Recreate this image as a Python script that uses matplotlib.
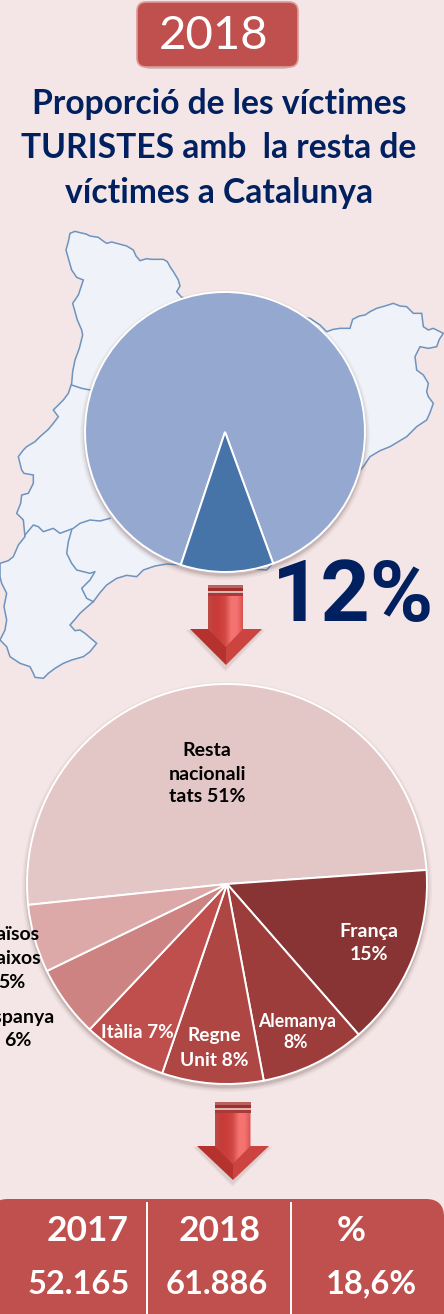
import matplotlib
matplotlib.use("Agg")
import matplotlib.pyplot as plt
import numpy as np
from matplotlib.colors import LinearSegmentedColormap
from matplotlib.patches import Circle, FancyBboxPatch, Polygon

# Data
year = "2018"
title_lines = ["Proporció de les víctimes", "TURISTES amb  la resta de", "víctimes a Catalunya"]
share_values = [89.3, 10.7]
share_colors = ["#95A9D0", "#4674A9"]
share_label = "12%"

origin_values = [50.6, 14.7, 8.5, 8.2, 6.8, 5.8, 5.5]
origin_colors = ["#E3C6C6", "#893434", "#9D3D3B", "#AE4644", "#BE4F4C", "#CC8382", "#DCA9A8"]

table_head = ["2017", "2018", "%"]
table_vals = ["52.165", "61.886", "18,6%"]

# Colors
bg = "#F4E6E6"
navy = "#002060"
red = "#C0504D"
map_fill = "#EFF3F9"
map_line = "#6E93BE"

# map outline, traced in zoomed pixels (x, y) of the map crop
map_outline = [(210, 40), (225, 34), (240, 38), (258, 42), (270, 48), (295, 52), (308, 62), (320, 70), (335, 66), (350, 70),
               (380, 78), (400, 90), (408, 108), (420, 122), (440, 116), (455, 118), (490, 118), (502, 125), (510, 140),
               (522, 158), (535, 180), (540, 198), (530, 215), (545, 232), (930, 295), (945, 305), (960, 315), (980, 335),
               (1000, 328), (1020, 325), (1050, 325), (1058, 298), (1078, 288), (1095, 285), (1110, 275), (1130, 265),
               (1155, 258), (1180, 250), (1200, 258), (1220, 260), (1240, 280), (1265, 280), (1270, 320), (1285, 330),
               (1300, 325), (1330, 340), (1318, 358), (1310, 380), (1285, 385), (1260, 380), (1245, 410), (1250, 450),
               (1270, 465), (1285, 490), (1280, 515), (1285, 530), (1300, 550), (1290, 578), (1280, 600), (1250, 620),
               (1220, 650), (1195, 665), (1170, 680), (1140, 692), (1110, 710), (1090, 740), (800, 1050), (500, 1032),
               (465, 1038), (430, 1050), (410, 1070), (380, 1066), (350, 1075), (320, 1095), (300, 1118), (280, 1145),
               (260, 1162), (240, 1180), (225, 1198), (210, 1215), (225, 1232), (240, 1230), (255, 1240), (290, 1270),
               (270, 1295), (250, 1310), (215, 1320), (190, 1330), (165, 1345), (145, 1360), (130, 1375), (105, 1372),
               (100, 1360), (90, 1340), (60, 1330), (30, 1310), (20, 1280), (0, 1260), (15, 1230), (20, 1200), (12, 1160),
               (20, 1120), (5, 1090), (0, 1070), (0, 1030), (25, 1022), (40, 1010), (55, 975), (75, 950), (72, 920),
               (70, 900), (50, 880), (62, 850), (65, 825), (85, 820), (100, 790), (100, 765), (72, 760), (65, 750), (55, 710),
               (70, 690), (80, 680), (105, 665), (120, 650), (145, 628), (160, 610), (175, 590), (160, 570), (178, 552),
               (190, 540), (205, 520), (215, 490), (218, 455), (225, 420), (238, 385), (248, 345), (245, 330), (232, 300),
               (218, 250), (235, 225), (250, 180), (230, 172), (215, 150), (205, 115), (198, 90), (205, 65)]
map_border_a = [(215, 495), (245, 505), (270, 510)]
map_border_b = [(75, 945), (100, 915), (115, 920), (130, 935), (160, 925), (180, 940), (220, 925), (240, 910), (270, 900),
                (300, 903), (330, 895)]
map_border_c = [(215, 930), (205, 965), (200, 1000), (215, 1030), (230, 1050), (270, 1060), (285, 1055), (270, 1080),
                (245, 1105), (260, 1135), (280, 1145)]

W, H = 444, 1314
fig = plt.figure(figsize=(W / 100, H / 100), dpi=100, facecolor=bg)

ax = fig.add_axes([0, 0, 1, 1], zorder=0)
ax.set_xlim(0, W)
ax.set_ylim(H, 0)
ax.axis("off")

top = fig.add_axes([0, 0, 1, 1], zorder=3)
top.set_xlim(0, W)
top.set_ylim(H, 0)
top.axis("off")

sans = "Lato"


def map_xy(points):
    pts = np.array(points, dtype=float)
    return np.column_stack([pts[:, 0] / 3, pts[:, 1] / 3 + 220])


def draw_shadow(cx, cy, r):
    for grow, alpha in [(5, 0.05), (3.5, 0.07), (2, 0.1), (1, 0.12)]:
        ax.add_patch(Circle((cx, cy + 3), r + grow, color="#6B4A4A", alpha=alpha, lw=0, zorder=4))


def draw_pie(values, colors, cx, cy, r, start, lw):
    pad = 1.03
    pie_ax = fig.add_axes([(cx - r * pad) / W, 1 - (cy + r * pad) / H, 2 * r * pad / W, 2 * r * pad / H], zorder=1)
    pie_ax.pie(values, colors=colors, startangle=start, counterclock=False,
               wedgeprops={"edgecolor": "white", "linewidth": lw})
    pie_ax.set_xlim(-pad, pad)
    pie_ax.set_ylim(-pad, pad)
    pie_ax.axis("off")


def draw_arrow(cx, y0, base, tip, stem_hw, head_hw):
    # stripes on top of the stem
    ax.fill_between([cx - stem_hw, cx + stem_hw], y0, y0 + 3, color="#B9615E", lw=0, zorder=6)
    ax.fill_between([cx - stem_hw, cx + stem_hw], y0 + 3, y0 + 6, color="#9E2F2C", lw=0, zorder=6)
    ax.fill_between([cx - stem_hw, cx + stem_hw], y0 + 6, y0 + 8, color="#DDB5B3", lw=0, zorder=6)
    ax.fill_between([cx - stem_hw, cx + stem_hw], y0 + 8, y0 + 11, color="#A93A37", lw=0, zorder=6)
    # soft shadow
    for grow, alpha in [(4, 0.06), (2, 0.1)]:
        ax.add_patch(Polygon([(cx - head_hw - grow, base + 1), (cx + head_hw + grow, base + 1), (cx, tip + 3 + grow)],
                             color="#6B4A4A", alpha=alpha, lw=0, zorder=5))
    # head
    ax.add_patch(Polygon([(cx - head_hw, base), (cx, base), (cx, tip)], color="#B5322E", lw=0, zorder=6))
    ax.add_patch(Polygon([(cx + head_hw, base), (cx, base), (cx, tip)], color="#CC4440", lw=0, zorder=6))
    # stem with side to side shading, runs into the head as a point
    cmap = LinearSegmentedColormap.from_list("stem", ["#BE4A46", "#C53C38", "#CC3E3A", "#D24A46", "#F47370", "#F47370", "#D8534F"])
    im = ax.imshow(np.linspace(0, 1, 64).reshape(1, -1), cmap=cmap, aspect="auto", zorder=7,
                   extent=(cx - stem_hw, cx + stem_hw, base + 18, y0 + 11))
    stem = Polygon([(cx - stem_hw, y0 + 11), (cx + stem_hw, y0 + 11), (cx + stem_hw, base), (cx, base + 18),
                    (cx - stem_hw, base)], transform=ax.transData, fc="none", lw=0)
    ax.add_patch(stem)
    im.set_clip_path(stem)
    ax.set_xlim(0, W)
    ax.set_ylim(H, 0)


# Year badge
ax.add_patch(FancyBboxPatch((142, 8), 150, 61, boxstyle="round,pad=0,rounding_size=8", fc="#6B4A4A", alpha=0.25, lw=0,
                            zorder=1))
ax.add_patch(FancyBboxPatch((137, 2), 161, 65, boxstyle="round,pad=0,rounding_size=9", fc=red, ec="#DE9A98", lw=1.2,
                            zorder=2))
top.text(214, 36, year, color="white", fontsize=34, family=sans, ha="center", va="center")

# Title
for line, y in zip(title_lines, [104, 148, 193]):
    top.text(219, y, line, color=navy, fontsize=24.2, family=sans, fontweight="bold", ha="center", va="center")

# Map behind the first pie
ax.add_patch(Polygon(map_xy(map_outline), closed=True, fc=map_fill, ec=map_line, lw=1.1, zorder=2))
for border in [map_border_a, map_border_b, map_border_c]:
    xy = map_xy(border)
    ax.plot(xy[:, 0], xy[:, 1], color=map_line, lw=1.1, zorder=3)

# First pie
draw_shadow(225, 432, 140)
draw_pie(share_values, share_colors, 225, 432, 140, 251.6, 1.4)
top.text(353, 598, share_label, color=navy, fontsize=62, family="Roboto", fontweight="bold",
         ha="center", va="center")
draw_arrow(225.5, 585, 629, 665, 17.5, 36)

# Second pie
draw_shadow(227, 884, 200)
draw_pie(origin_values, origin_colors, 227, 884, 200, 186, 1.4)

dark_text = "black"
top.text(207, 750, "Resta", color=dark_text, fontsize=14, family=sans, fontweight="bold", ha="center", va="center")
top.text(207, 774, "nacionali", color=dark_text, fontsize=14, family=sans, fontweight="bold", ha="center", va="center")
top.text(207, 797, "tats 51%", color=dark_text, fontsize=14, family=sans, fontweight="bold", ha="center", va="center")
top.text(369, 931, "França", color="white", fontsize=14, family=sans, fontweight="bold", ha="center", va="center")
top.text(369, 954, "15%", color="white", fontsize=14, family=sans, fontweight="bold", ha="center", va="center")
top.text(297, 1022, "Alemanya", color="white", fontsize=12.7, family=sans, fontweight="bold", ha="center", va="center")
top.text(296, 1043, "8%", color="white", fontsize=12.7, family=sans, fontweight="bold", ha="center", va="center")
top.text(214, 1036, "Regne", color="white", fontsize=13.8, family=sans, fontweight="bold", ha="center", va="center")
top.text(214, 1060, "Unit 8%", color="white", fontsize=13.8, family=sans, fontweight="bold", ha="center", va="center")
top.text(137, 1033, "Itàlia 7%", color="white", fontsize=13.7, family=sans, fontweight="bold", ha="center", va="center")
top.text(18, 1017, "Espanya", color=dark_text, fontsize=14, family=sans, fontweight="bold", ha="center", va="center")
top.text(18, 1041, "6%", color=dark_text, fontsize=14, family=sans, fontweight="bold", ha="center", va="center")
top.text(12, 935, "Països", color=dark_text, fontsize=14, family=sans, fontweight="bold", ha="center", va="center")
top.text(12, 959, "Baixos", color=dark_text, fontsize=14, family=sans, fontweight="bold", ha="center", va="center")
top.text(12, 982, "5%", color=dark_text, fontsize=14, family=sans, fontweight="bold", ha="center", va="center")

draw_arrow(232.5, 1102, 1146, 1180, 18, 36)

# Table at the bottom
ax.add_patch(FancyBboxPatch((-10, 1199), 454, 140, boxstyle="round,pad=0,rounding_size=18", fc=red, lw=0, zorder=2))
for x in [147, 291]:
    ax.plot([x, x], [1203, H], color="white", lw=1.4, zorder=3)
for x, label in zip([88, 220, 351], table_head):
    top.text(x, 1231, label, color="white", fontsize=25.5, family=sans, fontweight="bold", ha="center", va="center")
for x, label in zip([79, 217, 371], table_vals):
    top.text(x, 1284, label, color="white", fontsize=23.5, family=sans, fontweight="bold", ha="center", va="center")

fig.savefig("out.png", dpi=100, facecolor=bg)
